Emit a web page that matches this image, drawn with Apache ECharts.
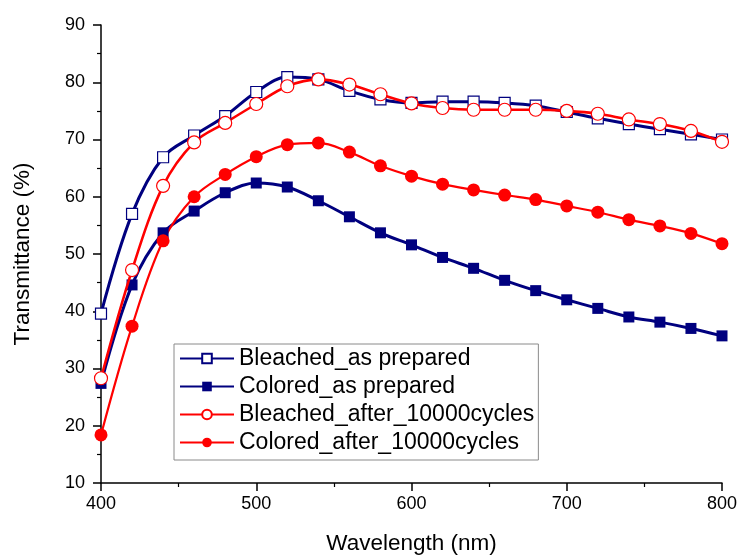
<!DOCTYPE html>
<html>
<head>
<meta charset="utf-8">
<script src="https://cdn.jsdelivr.net/npm/echarts@6/dist/echarts.min.js"></script>
<style>html,body{margin:0;padding:0;background:#fff}#c{width:743px;height:556px}</style>
</head>
<body>
<div id="c"></div>
<script>
var wavelength = [400,420,440,460,480,500,520,540,560,580,600,620,640,660,680,700,720,740,760,780,800];
var bleachedAsPrepared = [39.6,57.0,66.9,70.7,74.1,78.3,80.9,80.5,78.5,77.0,76.4,76.6,76.6,76.4,75.9,74.8,73.7,72.7,71.8,70.9,70.0];
var coloredAsPrepared = [27.4,44.6,53.7,57.5,60.7,62.4,61.7,59.3,56.5,53.7,51.6,49.4,47.5,45.4,43.6,42.0,40.5,39.0,38.1,37.0,35.7];
var bleachedAfter = [28.3,47.2,61.9,69.5,72.9,76.2,79.3,80.5,79.6,77.9,76.3,75.5,75.2,75.2,75.2,75.0,74.5,73.5,72.7,71.5,69.6];
var coloredAfter = [18.4,37.4,52.3,60.0,63.9,67.0,69.1,69.4,67.8,65.4,63.6,62.2,61.2,60.3,59.5,58.4,57.3,56.0,54.9,53.6,51.8];
var seriesNames = ['Bleached_as prepared','Colored_as prepared','Bleached_after_10000cycles','Colored_after_10000cycles'];
var xTitle = 'Wavelength (nm)';
var yTitle = 'Transmittance (%)';

function pairs(ys){ return wavelength.map(function(x,i){ return [x, ys[i]]; }); }
var NAVY = '#00007f', RED = '#ff0000';
var FONT = 'Liberation Sans, Arial, sans-serif';
function mk(name, ys, color, symbol, size, filled, lw){
  return {
    name: name, type: 'line', data: pairs(ys), smooth: 0.35,
    symbol: symbol, symbolSize: size, showSymbol: true,
    lineStyle: {color: color, width: lw},
    itemStyle: {color: filled ? color : '#ffffff', borderColor: color, borderWidth: filled ? 0 : 1.2, opacity: 1},
    emphasis: {disabled: true}, z: filled ? 3 : 4
  };
}
var chart = echarts.init(document.getElementById('c'), null, {renderer: 'canvas'});
var axisCommon = {
  axisLine: {show: true, onZero: false, lineStyle: {color: '#000', width: 1.5}},
  axisTick: {show: true, inside: false, length: 8, lineStyle: {color: '#000', width: 1.5}},
  minorTick: {show: true, splitNumber: 2, length: 4, lineStyle: {color: '#000', width: 1.2}},
  splitLine: {show: false},
  nameTextStyle: {color: '#000', fontSize: 22.5, fontFamily: FONT}
};
chart.setOption({
  animation: false,
  backgroundColor: '#fff',
  grid: {left: 101, right: 21, top: 25, bottom: 73, containLabel: false, outerBoundsMode: 'none'},
  xAxis: Object.assign({}, axisCommon, {
    type: 'value', min: 400, max: 800, interval: 100,
    name: xTitle, nameLocation: 'middle', nameGap: 49,
    axisLabel: {color: '#000', fontSize: 18, fontFamily: FONT, margin: 12}
  }),
  yAxis: Object.assign({}, axisCommon, {
    type: 'value', min: 10, max: 90, interval: 10,
    name: yTitle, nameLocation: 'middle', nameGap: 67,
    axisLabel: {color: '#000', fontSize: 18, fontFamily: FONT, margin: 16}
  }),
  legend: {
    orient: 'vertical', left: 174, top: 344,
    data: seriesNames,
    itemWidth: 54, itemHeight: 12, itemGap: 5,
    padding: [3, 4, 6, 5],
    borderColor: '#8a8a8a', borderWidth: 1, backgroundColor: '#fff',
    textStyle: {color: '#000', fontSize: 23, fontFamily: FONT},
    selectedMode: false
  },
  series: [
    mk(seriesNames[0], bleachedAsPrepared, NAVY, 'rect', 11, false, 3),
    mk(seriesNames[1], coloredAsPrepared, NAVY, 'rect', 11, true, 3),
    mk(seriesNames[2], bleachedAfter, RED, 'circle', 13, false, 2.6),
    mk(seriesNames[3], coloredAfter, RED, 'circle', 13, true, 2.2)
  ]
});
</script>
</body>
</html>
